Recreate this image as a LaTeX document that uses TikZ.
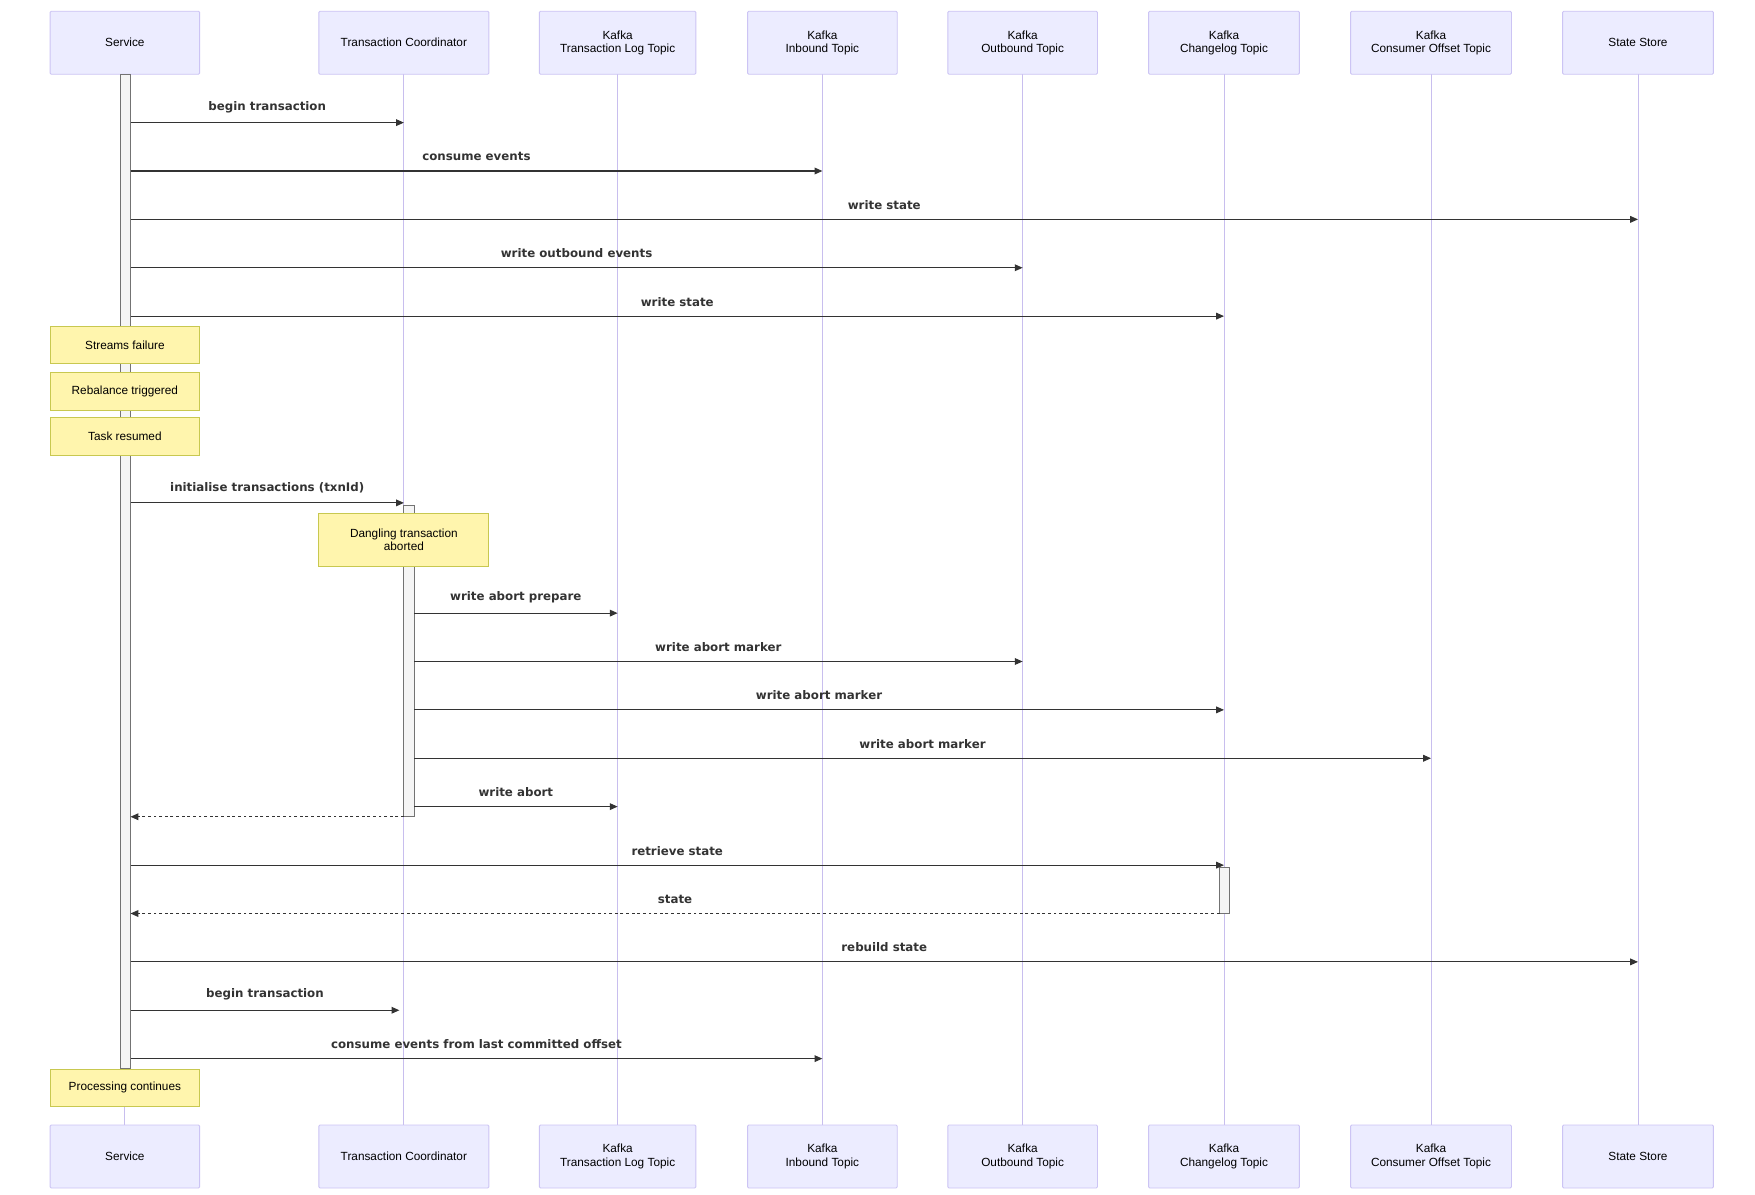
\documentclass[tikz,border=0pt]{standalone}
\usepackage{fontspec}
\setmainfont{Liberation Sans}
\newfontfamily\msgfont{DejaVu Sans}
\usetikzlibrary{arrows.meta}
\definecolor{actfill}{HTML}{ECECFF}
\definecolor{actdraw}{HTML}{CCC4F4}
\definecolor{lifel}{HTML}{C8BEEE}
\definecolor{notefill}{HTML}{FFF5AD}
\definecolor{notedraw}{HTML}{C8C850}
\definecolor{ink}{HTML}{333333}
\tikzset{
 actor/.style={draw=actdraw,fill=actfill,line width=0.8pt,rounded corners=1pt,minimum height=56pt,align=center,font=\fontsize{10.5}{12}\selectfont,inner sep=0pt},
 notebox/.style={draw=notedraw,fill=notefill,line width=0.8pt,align=center,font=\fontsize{10.5}{12}\selectfont,inner sep=0pt},
 msg/.style={draw=ink,line width=0.9pt,-{Triangle[length=7pt,width=6pt]}},
 ret/.style={msg,dash pattern=on 2.5pt off 2.5pt},
 lbl/.style={font=\msgfont\bfseries\fontsize{10.5}{13}\selectfont,text=ink,above=5pt},
 actbar/.style={draw=black!55,fill=black!4,line width=0.7pt},
 life/.style={draw=lifel,line width=0.8pt}
}
\begin{document}
\begin{tikzpicture}[x=1pt,y=1pt]
\useasboundingbox[fill=white] (0,0) rectangle (1560,-1062);
\def\xS{111}\def\xT{359}\def\xL{549}\def\xI{731}\def\xO{909}\def\xC{1088}\def\xK{1272}\def\xR{1456}
\foreach \x in {\xS,\xT,\xL,\xI,\xO,\xC,\xK,\xR}{\draw[life] (\x,-66) -- (\x,-1000);}
\foreach \n/\x/\w/\t in {s/\xS/133/Service, t/\xT/151/Transaction Coordinator, l/\xL/139/Kafka\\Transaction Log Topic, i/\xI/133/Kafka\\Inbound Topic, o/\xO/133/Kafka\\Outbound Topic, c/\xC/134/Kafka\\Changelog Topic, k/\xK/143/Kafka\\Consumer Offset Topic, r/\xR/134/State Store}{
 \node[actor,minimum width=\w pt] (\n top) at (\x,-38) {\t};
 \node[actor,minimum width=\w pt] (\n bot) at (\x,-1028) {\t};
}
\draw[actbar] (107,-66) rectangle (116,-950);
\draw[actbar] (359,-449) rectangle (368,-726);
\draw[actbar] (1084,-771) rectangle (1093,-812);
\draw[msg] (116,-109) -- node[lbl]{begin transaction} (\xT,-109);
\draw[msg] (116,-152) -- node[lbl]{consume events} (\xI,-152);
\draw[msg] (116,-195) -- node[lbl]{write state} (\xR,-195);
\draw[msg] (116,-238) -- node[lbl]{write outbound events} (\xO,-238);
\draw[msg] (116,-281) -- node[lbl]{write state} (\xC,-281);
\node[notebox,minimum width=133pt,minimum height=33pt] (n1) at (\xS,-307) {Streams failure};
\node[notebox,minimum width=133pt,minimum height=33pt] (n2) at (\xS,-348) {Rebalance triggered};
\node[notebox,minimum width=133pt,minimum height=33pt] (n3) at (\xS,-388) {Task resumed};
\draw[msg] (116,-447) -- node[lbl]{initialise transactions (txnId)} (\xT,-447);
\node[notebox,minimum width=151pt,minimum height=47pt] (n4) at (\xT,-480) {Dangling transaction\\aborted};
\draw[msg] (368,-545) -- node[lbl]{write abort prepare} (\xL,-545);
\draw[msg] (368,-588) -- node[lbl]{write abort marker} (\xO,-588);
\draw[msg] (368,-631) -- node[lbl]{write abort marker} (\xC,-631);
\draw[msg] (368,-674) -- node[lbl]{write abort marker} (\xK,-674);
\draw[msg] (368,-717) -- node[lbl]{write abort} (\xL,-717);
\draw[ret] (359,-726) -- (116,-726);
\draw[msg] (116,-769) -- node[lbl]{retrieve state} (\xC,-769);
\draw[ret] (1084,-812) -- node[lbl]{state} (116,-812);
\draw[msg] (116,-855) -- node[lbl]{rebuild state} (\xR,-855);
\draw[msg] (116,-898) -- node[lbl]{begin transaction} (355,-898);
\draw[msg] (116,-941) -- node[lbl]{consume events from last committed offset} (\xI,-941);
\node[notebox,minimum width=133pt,minimum height=33pt] (n5) at (\xS,-967) {Processing continues};
\end{tikzpicture}
\end{document}
